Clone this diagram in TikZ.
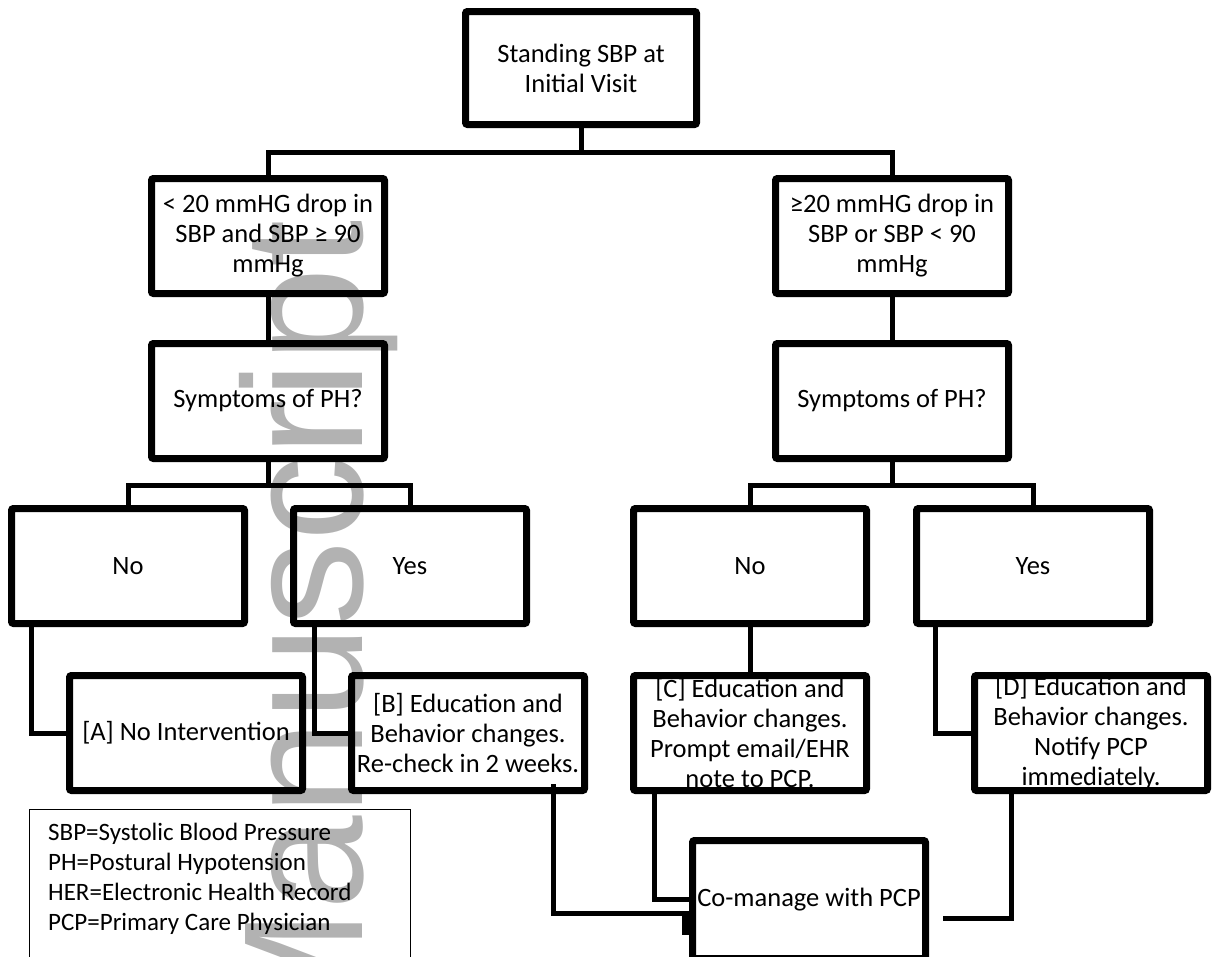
\documentclass[tikz,border=0pt]{standalone}
\usepackage{fontspec}
\setmainfont{Carlito}
\newfontfamily\wmfont{Liberation Sans}
\usetikzlibrary{calc}
\definecolor{wmgray}{RGB}{178,178,178}
\begin{document}
\begin{tikzpicture}[x=1pt,y=1pt,
  bx/.style={draw, line width=7pt, rounded corners=2pt, minimum width=233pt,
    minimum height=115pt, align=center, inner sep=0pt,
    font=\fontsize{26.5}{30}\selectfont},
  conn/.style={line width=5pt},
  legtxt/.style={anchor=base west, inner sep=0pt, font=\fontsize{25}{30}\selectfont}]
\useasboundingbox (0,0) rectangle (1212,-956);
\clip (0,0) rectangle (1212,-956);
% watermark
\node[rotate=90, anchor=base east, inner sep=0pt, text=wmgray,
  font=\wmfont\fontsize{170}{170}\selectfont] (wm) at (362,-220) {Manuscript};
% boxes
\node[bx, minimum width=231pt, minimum height=113pt] (top) at (581,-68) {Standing SBP at\\Initial Visit};
\node[bx] (L2a) at (268,-236) {< 20 mmHG drop in\\SBP and SBP ≥ 90\\mmHg};
\node[bx] (L2b) at (892,-236) {≥20 mmHG drop in\\SBP or SBP < 90\\mmHg};
\node[bx] (S1) at (268,-401) {Symptoms of PH?};
\node[bx] (S2) at (892,-401) {Symptoms of PH?};
\node[bx] (N1) at (128,-566) {No};
\node[bx] (Y1) at (410,-566) {Yes};
\node[bx] (N2) at (750,-566) {No};
\node[bx] (Y2) at (1033,-566) {Yes};
\node[bx] (A) at (186,-733) {[A] No Intervention};
\node[bx] (B) at (468,-733) {[B] Education and\\Behavior changes.\\Re-check in 2 weeks.};
\node[bx] (C) at (750,-733) {[C] Education and\\Behavior changes.\\Prompt email/EHR\\note to PCP.};
\node[bx] (D) at (1091,-733) {[D] Education and\\Behavior changes.\\Notify PCP\\immediately.};
\node[bx, minimum height=118pt] (CM) at (809,-899.5) {Co-manage with PCP};
% legend
\node[draw, line width=1.5pt, minimum width=381pt, minimum height=160pt,
  anchor=north west, inner sep=0pt] (leg) at (28.75,-808.75) {};
\node[legtxt] (l1) at (48,-840) {SBP=Systolic Blood Pressure};
\node[legtxt] (l2) at (48,-870) {PH=Postural Hypotension};
\node[legtxt] (l3) at (48,-900) {HER=Electronic Health Record};
\node[legtxt] (l4) at (48,-930) {PCP=Primary Care Physician};
% connectors
\coordinate (j1) at (581,-152);
\coordinate (j2) at (268,-485);
\coordinate (j3) at (892,-485);
\coordinate (dend) at (943,-918);
\draw[conn] (top.south) -- (j1);
\draw[conn] (L2a.north) |- (j1) -| (L2b.north);
\draw[conn] (L2a.south) -- (S1.north);
\draw[conn] (L2b.south) -- (S2.north);
\draw[conn] (S1.south) -- (j2);
\draw[conn] (N1.north) |- (j2) -| (Y1.north);
\draw[conn] (S2.south) -- (j3);
\draw[conn] (N2.north) |- (j3) -| (Y2.north);
\draw[conn] ([xshift=23.5pt]N1.south west) |- (A.west);
\draw[conn] ([xshift=24.5pt]Y1.south west) |- (B.west);
\draw[conn] (N2.south) -- (C.north);
\draw[conn] ([xshift=22.5pt]Y2.south west) |- (D.west);
\draw[conn] ([xshift=85pt,yshift=10pt]B.south) |- ([yshift=-13.5pt]CM.west);
\fill ([xshift=-7.5pt,yshift=-13.5pt]CM.west) rectangle ([yshift=-35.5pt]CM.west);
\draw[conn] ([xshift=24.5pt]C.south west) |- (CM.west);
\draw[conn] ([xshift=40.5pt]D.south west) |- (dend);
\end{tikzpicture}
\end{document}
